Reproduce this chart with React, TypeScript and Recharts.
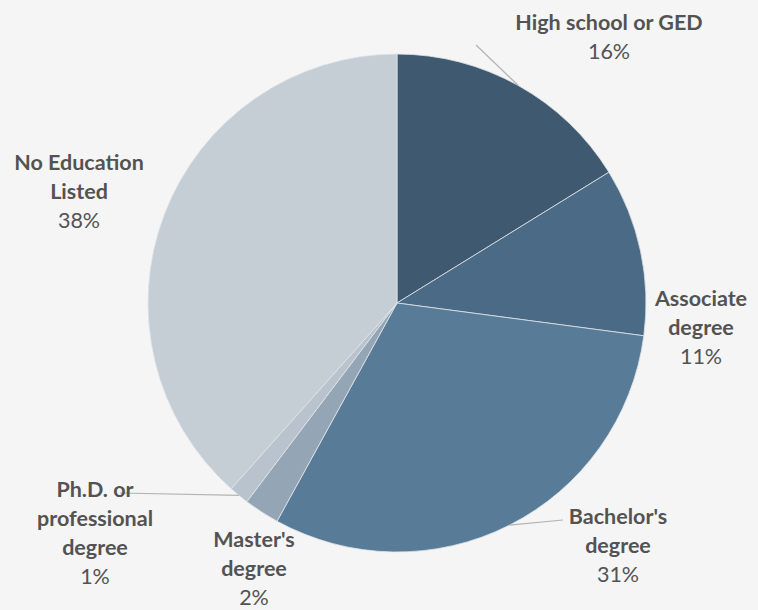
import { PieChart, Pie, Cell } from "recharts";

const CATEGORIES = [
  "High school or GED",
  "Associate degree",
  "Bachelor's degree",
  "Master's degree",
  "Ph.D. or professional degree",
  "No Education Listed",
];

const SHARES = [16.2, 10.9, 30.9, 2.3, 1.3, 38.4];

// label text split into lines the way the chart wraps them
const LABEL_LINES = [
  ["High school or GED"],
  ["Associate", "degree"],
  ["Bachelor's", "degree"],
  ["Master's", "degree"],
  ["Ph.D. or", "professional", "degree"],
  ["No Education", "Listed"],
];

const COLORS = ["#3f5a70", "#4a6a85", "#587b98", "#94a5b5", "#b8c3ce", "#c5cdd5"];

// label anchor (center of first line) relative to pie center, plus optional leader end
const LABEL_POS: { dx: number; dy: number; lead?: [number, number] }[] = [
  { dx: 212, dy: -281, lead: [79, -258] },
  { dx: 304, dy: -5 },
  { dx: 221, dy: 213, lead: [166, 217] },
  { dx: -143, dy: 236 },
  { dx: -302, dy: 186, lead: [-277, 190] },
  { dx: -318, dy: -141 },
];

const data = CATEGORIES.map((name, i) => ({ name, value: SHARES[i] }));

const RAD = Math.PI / 180;
const LINE_H = 29;
const TEXT = "#535353";

function renderLabel(props: any) {
  const { cx, cy, midAngle, outerRadius, percent, index } = props;
  const pos = LABEL_POS[index];
  const lines = LABEL_LINES[index];
  const x = cx + pos.dx;
  const y = cy + pos.dy;
  const ex = cx + outerRadius * Math.cos(-midAngle * RAD);
  const ey = cy + outerRadius * Math.sin(-midAngle * RAD);
  return (
    <g key={`lbl-${index}`}>
      {pos.lead && (
        <line
          x1={ex}
          y1={ey}
          x2={cx + pos.lead[0]}
          y2={cy + pos.lead[1]}
          stroke="#b3b3b3"
          strokeWidth={1.2}
        />
      )}
      <text
        x={x}
        y={y}
        textAnchor="middle"
        dominantBaseline="central"
        fontFamily="Lato, 'Open Sans', sans-serif"
        fontSize={21.5}
        fill={TEXT}
      >
        {lines.map((ln, k) => (
          <tspan key={k} x={x} dy={k === 0 ? 0 : LINE_H} fontWeight={700}>
            {ln}
          </tspan>
        ))}
        <tspan x={x} dy={LINE_H} fontWeight={400}>
          {`${Math.round(percent * 100)}%`}
        </tspan>
      </text>
    </g>
  );
}

export default function App() {
  return (
    <div
      style={{
        position: "fixed",
        left: 0,
        top: 0,
        width: 758,
        height: 610,
        background: "#f5f5f5",
      }}
    >
      <PieChart width={758} height={610} margin={{ top: 0, right: 0, bottom: 0, left: 0 }}>
        <Pie
          data={data}
          dataKey="value"
          nameKey="name"
          cx={397}
          cy={303}
          outerRadius={249}
          startAngle={90}
          endAngle={-270}
          stroke="#dfe4e8"
          strokeWidth={0.8}
          labelLine={false}
          label={renderLabel}
          isAnimationActive={false}
        >
          {data.map((d, i) => (
            <Cell key={d.name} fill={COLORS[i]} />
          ))}
        </Pie>
      </PieChart>
    </div>
  );
}
